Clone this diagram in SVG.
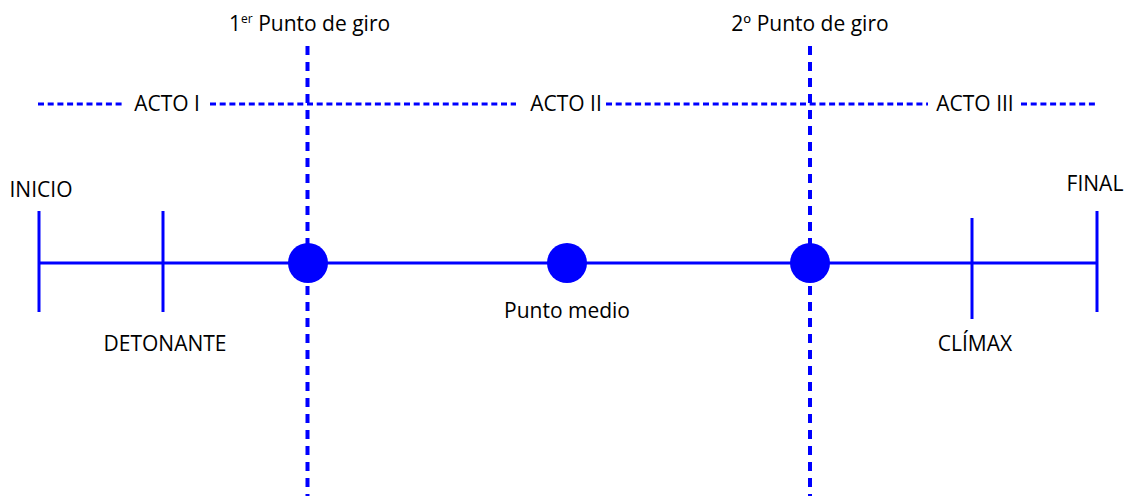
<svg xmlns="http://www.w3.org/2000/svg" width="1127" height="496" viewBox="0 0 1127 496">
<style>
.t{font-family:"Open Sans","Liberation Sans",Arial,sans-serif;font-size:21px;fill:#000}
.sup{font-size:12px}
.vd{stroke:#0000ff;stroke-width:4;stroke-dasharray:9 7;fill:none}
.hd{stroke:#0000ff;stroke-width:3;stroke-dasharray:6 3.7;fill:none}
.ln{stroke:#0000ff;stroke-width:3;fill:none}
.dot{fill:#0000ff}
</style>
<rect width="1127" height="496" fill="#fff"/>
<g id="connectors">
<line class="hd" x1="38" y1="104" x2="124" y2="104"/>
<line class="hd" x1="210" y1="104" x2="516" y2="104"/>
<line class="hd" x1="606" y1="104" x2="928" y2="104"/>
<line class="hd" x1="1021" y1="104" x2="1098" y2="104"/>
<line class="vd" x1="307.5" y1="46" x2="307.5" y2="496"/>
<line class="vd" x1="810" y1="46" x2="810" y2="496"/>
<line class="ln" x1="39" y1="263" x2="1097" y2="263"/>
</g>
<g id="inicio">
<line class="ln" x1="39" y1="211" x2="39" y2="312"/>
<text class="t" x="41" y="197" text-anchor="middle">INICIO</text>
</g>
<g id="detonante">
<line class="ln" x1="163" y1="211" x2="163" y2="312"/>
<text class="t" x="165" y="351" text-anchor="middle">DETONANTE</text>
</g>
<g id="punto-giro-1">
<circle class="dot" cx="308" cy="263" r="20"/>
<text class="t" x="229" y="31">1<tspan class="sup" dy="-8">er</tspan><tspan dy="8"> Punto de giro</tspan></text>
</g>
<g id="punto-medio">
<circle class="dot" cx="567" cy="263" r="20"/>
<text class="t" x="567" y="318" text-anchor="middle">Punto medio</text>
</g>
<g id="punto-giro-2">
<circle class="dot" cx="810" cy="263" r="20"/>
<text class="t" x="810" y="31" text-anchor="middle">2º Punto de giro</text>
</g>
<g id="climax">
<line class="ln" x1="972" y1="218" x2="972" y2="319"/>
<text class="t" x="975" y="351" text-anchor="middle">CLÍMAX</text>
</g>
<g id="final">
<line class="ln" x1="1097" y1="211" x2="1097" y2="312"/>
<text class="t" x="1095" y="191" text-anchor="middle">FINAL</text>
</g>
<g id="actos">
<text class="t" x="167" y="111" text-anchor="middle">ACTO I</text>
<text class="t" x="566" y="111" text-anchor="middle">ACTO II</text>
<text class="t" x="975" y="111" text-anchor="middle">ACTO III</text>
</g>
</svg>
